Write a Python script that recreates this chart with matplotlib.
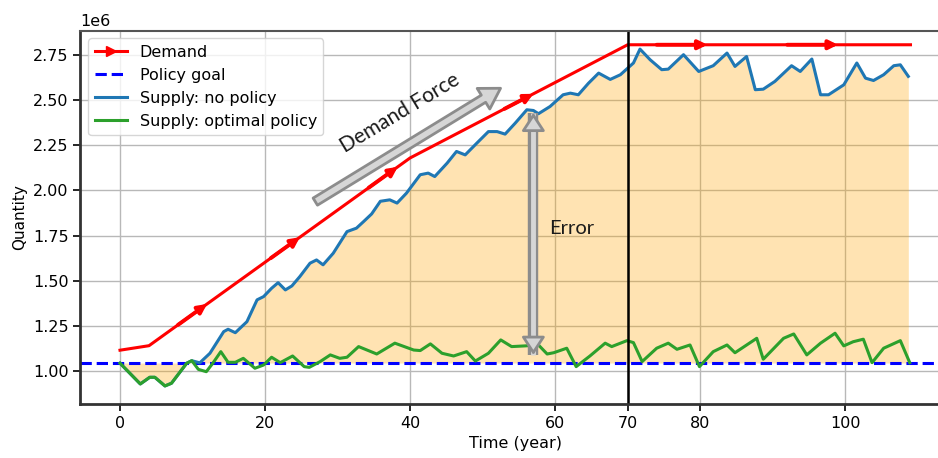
import matplotlib
matplotlib.use("Agg")
import matplotlib.pyplot as plt
import numpy as np
from matplotlib.lines import Line2D
from matplotlib.patches import FancyArrowPatch

# demand curve (millions)
demand_t = [0, 4, 40, 70, 109]
demand_v = [1.115, 1.14, 2.18, 2.807, 2.807]

goal = 1.044

# supply without policy
np_t = [0, 2.8, 4.1, 4.8, 6.2, 7.1, 9.2, 9.9, 11.0, 12.4, 14.3, 14.9, 15.9, 17.5, 18.9, 19.8, 20.9, 21.8,
        22.8, 23.7, 24.8, 26.2, 27.1, 28.0, 29.4, 31.3, 32.6, 33.6, 34.7, 35.9, 37.2, 38.2, 39.5, 41.4,
        42.5, 43.4, 45.1, 46.4, 47.6, 49.2, 50.8, 52.0, 53.1, 54.5, 56.1, 57.0, 57.7, 59.3, 61.1, 62.1,
        63.2, 64.6, 66.0, 67.6, 69.0, 70.8, 71.7, 73.1, 74.7, 75.6, 77.7, 79.8, 81.8, 83.7, 84.8, 86.4,
        87.6, 88.7, 90.3, 92.6, 93.8, 95.4, 96.6, 97.7, 99.8, 101.6, 102.8, 103.9, 105.3, 106.7, 107.6, 108.7]
np_v = [1.043, 0.928, 0.965, 0.965, 0.917, 0.932, 1.043, 1.057, 1.045, 1.098, 1.218, 1.231, 1.212, 1.273,
        1.394, 1.412, 1.458, 1.489, 1.449, 1.471, 1.523, 1.597, 1.615, 1.588, 1.652, 1.772, 1.791, 1.828,
        1.87, 1.94, 1.948, 1.93, 1.985, 2.087, 2.096, 2.077, 2.151, 2.216, 2.197, 2.262, 2.326, 2.326,
        2.312, 2.373, 2.447, 2.443, 2.425, 2.465, 2.53, 2.539, 2.53, 2.594, 2.65, 2.615, 2.641, 2.706,
        2.783, 2.724, 2.669, 2.672, 2.752, 2.659, 2.691, 2.761, 2.687, 2.742, 2.558, 2.561, 2.604, 2.691,
        2.659, 2.728, 2.53, 2.53, 2.585, 2.706, 2.622, 2.609, 2.641, 2.691, 2.696, 2.632]

# supply with optimal policy
opt_t = [0, 2.8, 4.1, 4.8, 6.2, 7.1, 9.2, 9.9, 10.8, 11.9, 12.8, 13.9, 14.9, 15.9, 17.0, 18.6, 19.8, 20.9,
         22.1, 23.8, 25.4, 26.1, 27.6, 29.0, 30.3, 31.3, 32.9, 35.4, 37.9, 40.5, 41.4, 42.8, 44.4, 46.0,
         47.8, 49.0, 50.8, 52.5, 54.0, 55.9, 57.7, 58.9, 59.8, 61.6, 62.9, 64.8, 66.9, 67.8, 69.9, 70.8,
         72.0, 74.0, 75.6, 76.8, 78.6, 79.9, 81.8, 83.7, 84.8, 87.8, 88.7, 91.5, 92.9, 94.7, 96.6, 98.6,
         99.8, 101.1, 102.5, 103.7, 105.3, 107.6, 108.9]
opt_v = [1.043, 0.928, 0.965, 0.965, 0.917, 0.932, 1.043, 1.057, 1.009, 0.996, 1.043, 1.107, 1.048, 1.048,
         1.07, 1.015, 1.033, 1.076, 1.046, 1.083, 1.024, 1.02, 1.052, 1.089, 1.07, 1.076, 1.135, 1.094,
         1.154, 1.116, 1.113, 1.15, 1.098, 1.083, 1.107, 1.055, 1.098, 1.172, 1.135, 1.139, 1.144, 1.094,
         1.101, 1.126, 1.024, 1.083, 1.154, 1.135, 1.168, 1.157, 1.052, 1.126, 1.154, 1.12, 1.144, 1.024,
         1.107, 1.144, 1.101, 1.181, 1.065, 1.181, 1.205, 1.089, 1.154, 1.209, 1.139, 1.162, 1.176, 1.046,
         1.126, 1.168, 1.046]

arrow_tips = [12, 24.8, 38.3, 57, 81, 99]
xticks = [0, 20, 40, 60, 70, 80, 100]

M = 1e6
demand_t = np.array(demand_t)
demand_v = np.array(demand_v) * M
np_v = np.array(np_v) * M
opt_v = np.array(opt_v) * M

fig = plt.figure(figsize=(9.38, 4.58), dpi=100)
ax = fig.add_axes([0.0858, 0.1179, 0.927, 0.8155])

ax.fill_between(np_t, goal * M, np_v, color="orange", alpha=0.3, lw=0)
ax.plot(demand_t, demand_v, color="red", lw=2.2)
ax.axhline(goal * M, color="blue", ls="--", lw=2.2)
ax.plot(np_t, np_v, color="tab:blue", lw=2.2)
ax.plot(opt_t, opt_v, color="tab:green", lw=2.2)
ax.axvline(70, color="black", lw=1.8)

# little arrow heads along the demand line
for tip in arrow_tips:
    back = 7 if tip > 70 else 4
    y_tip = np.interp(tip, demand_t, demand_v)
    y_back = np.interp(tip - back, demand_t, demand_v)
    ax.annotate("", xy=(tip, y_tip), xytext=(tip - back, y_back),
                arrowprops=dict(arrowstyle="-|>", color="red", lw=2.8, mutation_scale=13,
                                shrinkA=0, shrinkB=0))

# grey "Demand Force" arrow
edge = "#8c8c8c"
face = "#d6d6d6"
style = "simple,head_length=1.2,head_width=1.45,tail_width=0.5"
force = FancyArrowPatch((26.6, 1.93 * M), (52.8, 2.574 * M), arrowstyle=style, mutation_scale=12,
                        facecolor=face, edgecolor=edge, lw=2, zorder=5)
ax.add_patch(force)

# grey double "Error" arrow: shaft + two heads
err_x = 57.0
err_lo, err_hi = 1.089, 2.43
ax.plot([err_x, err_x], [err_lo * M, err_hi * M], color=edge, lw=7.5, solid_capstyle="butt", zorder=5)
ax.plot([err_x, err_x], [err_lo * M, err_hi * M], color=face, lw=3.5, solid_capstyle="butt", zorder=5.1)
head_len = 0.085
for tip, sgn in ((err_hi, -1), (err_lo, 1)):
    ax.annotate("", xy=(err_x, tip * M), xytext=(err_x, (tip + sgn * head_len) * M),
                arrowprops=dict(arrowstyle="-|>,head_length=0.55,head_width=0.36", mutation_scale=20,
                                fc=face, ec=edge, lw=2, shrinkA=0, shrinkB=0),
                zorder=6)

ax.text(38.6, 2.43 * M, "Demand Force", rotation=31, ha="center", va="center",
        fontsize=15, family="Lato", color="#1a1a1a")
ax.text(62.3, 1.79 * M, "Error", ha="center", va="center", fontsize=14.5, family="Lato", color="#1a1a1a")

ax.set_xlim(-5.45, 114.45)
ax.set_ylim(0.817 * M, 2.886 * M)
ax.set_xticks(xticks)
ax.grid(True, color="#b8b8b8", lw=1)
ax.set_axisbelow(True)
ax.tick_params(labelsize=11.5, width=1.2, length=5)
ax.yaxis.get_offset_text().set_fontsize(11.5)
for s in ["left", "bottom"]:
    ax.spines[s].set_linewidth(2)
    ax.spines[s].set_color("#333333")
ax.spines["top"].set_linewidth(1.5)
ax.spines["top"].set_color("#555555")
ax.set_xlabel("Time (year)", fontsize=11.5)
ax.set_ylabel("Quantity", fontsize=11)

handles = [
    Line2D([], [], color="red", lw=2.2, marker=">", markersize=7),
    Line2D([], [], color="blue", ls="--", lw=2.2),
    Line2D([], [], color="tab:blue", lw=2.2),
    Line2D([], [], color="tab:green", lw=2.2),
]
labels = ["Demand", "Policy goal", "Supply: no policy", "Supply: optimal policy"]
ax.legend(handles, labels, loc="upper left", fontsize=11.5, framealpha=0.8)

fig.savefig("out.png", dpi=100)
